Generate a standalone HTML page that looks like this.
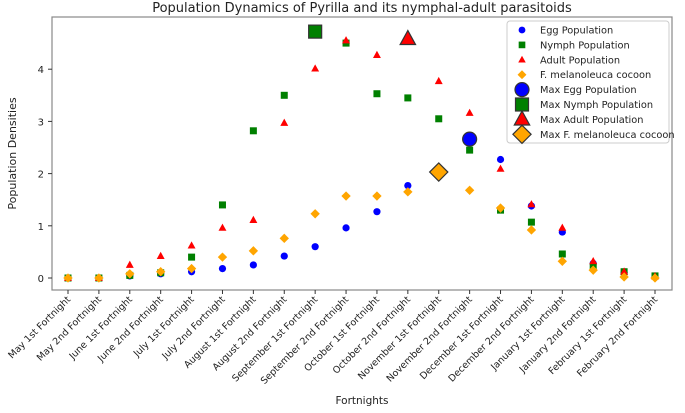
<!DOCTYPE html>
<html><head><meta charset="utf-8"><style>
body{margin:0;background:#fff;font-family:"Liberation Sans","DejaVu Sans",sans-serif}
svg text{font-family:"DejaVu Sans","Liberation Sans",sans-serif;fill:#222}
</style></head><body>
<svg id="c" width="685" height="408"></svg>
<script>
const categories=["May 1st Fortnight","May 2nd Fortnight","June 1st Fortnight","June 2nd Fortnight","July 1st Fortnight","July 2nd Fortnight","August 1st Fortnight","August 2nd Fortnight","September 1st Fortnight","September 2nd Fortnight","October 1st Fortnight","October 2nd Fortnight","November 1st Fortnight","November 2nd Fortnight","December 1st Fortnight","December 2nd Fortnight","January 1st Fortnight","January 2nd Fortnight","February 1st Fortnight","February 2nd Fortnight"];
const eggValues=[0,0,0.04,0.08,0.12,0.18,0.25,0.42,0.6,0.96,1.27,1.77,2.0,2.66,2.27,1.38,0.88,0.28,0.1,0.03];
const nymphValues=[0,0,0.05,0.1,0.4,1.4,2.82,3.5,4.72,4.5,3.53,3.45,3.05,2.45,1.3,1.07,0.46,0.22,0.12,0.04];
const adultValues=[0,0,0.25,0.42,0.62,0.96,1.11,2.97,4.01,4.55,4.27,4.58,3.77,3.16,2.09,1.41,0.96,0.32,0.12,0.03];
const cocoonValues=[0,0,0.08,0.12,0.18,0.4,0.52,0.76,1.23,1.57,1.57,1.65,2.03,1.68,1.34,0.92,0.32,0.15,0.02,0];
const yTicks=[0,1,2,3,4];
const NS="http://www.w3.org/2000/svg";
const svg=document.getElementById('c');
const L=52,R=672,T=17,B=290;
const xs=i=>68+i*(655-68)/(categories.length-1);
const ys=v=>278-v*52.2;
function el(t,a,p){const e=document.createElementNS(NS,t);for(const k in a)e.setAttribute(k,a[k]);(p||svg).appendChild(e);return e;}
const frame=el('rect',{x:L,y:T,width:R-L,height:B-T,fill:'none',stroke:'#888','stroke-width':1.2});


const title=el('text',{x:(L+R)/2,y:12,'text-anchor':'middle','font-size':13});
title.textContent='Population Dynamics of Pyrilla and its nymphal-adult parasitoids';


yTicks.forEach(t=>{
  el('line',{x1:L-4,x2:L,y1:ys(t),y2:ys(t),stroke:'#333'});
  const tx=el('text',{x:L-8,y:ys(t)+4,'text-anchor':'end','font-size':10});
  tx.textContent=t;
  
  
});
categories.forEach((c,i)=>{
  const x=xs(i);
  el('line',{x1:x,x2:x,y1:B,y2:B+4,stroke:'#333'});
  const tx=el('text',{x:x+3,y:B+10,'text-anchor':'end','font-size':9.5,transform:`rotate(-45 ${x+3} ${B+10})`});
  tx.textContent=c;
  
  
});
const yl=el('text',{x:16,y:(T+B)/2,'text-anchor':'middle','font-size':11,transform:`rotate(-90 16 ${(T+B)/2})`});
yl.textContent='Population Densities';


const xl=el('text',{x:(L+R)/2,y:404,'text-anchor':'middle','font-size':10.5});
xl.textContent='Fortnights';


function marker(shape,x,y,s,color,edge,g){
  let e;
  if(shape==='circle')e=el('circle',{cx:x,cy:y,r:s,fill:color},g);
  else if(shape==='square')e=el('rect',{x:x-s,y:y-s,width:2*s,height:2*s,fill:color},g);
  else if(shape==='tri')e=el('polygon',{points:`${x},${y-s*1.2} ${x-s*1.1},${y+s*0.8} ${x+s*1.1},${y+s*0.8}`,fill:color},g);
  else e=el('polygon',{points:`${x},${y-s*1.3} ${x+s*1.3},${y} ${x},${y+s*1.3} ${x-s*1.3},${y}`,fill:color},g);
  if(edge){e.setAttribute('stroke','#333');e.setAttribute('stroke-width',1.2);}
  return e;
}
const series=[
 {name:'Egg Population',maxName:'Max Egg Population',vals:eggValues,shape:'circle',color:'#0000ff',s:3.6,ms:7},
 {name:'Nymph Population',maxName:'Max Nymph Population',vals:nymphValues,shape:'square',color:'#008000',s:3.5,ms:6.5},
 {name:'Adult Population',maxName:'Max Adult Population',vals:adultValues,shape:'tri',color:'#ff0000',s:3.6,ms:7},
 {name:'F. melanoleuca cocoon',maxName:'Max F. melanoleuca cocoon',vals:cocoonValues,shape:'diamond',color:'#ffa500',s:3.6,ms:7}
];
series.forEach(sr=>{
  const g=el('g',{});
  
  
  sr.vals.forEach((v,i)=>{
    const m=marker(sr.shape,xs(i),ys(v),sr.s,sr.color,false,g);
    
    
  });
});
series.forEach(sr=>{
  let mi=0;sr.vals.forEach((v,i)=>{if(v>sr.vals[mi])mi=i;});
  const m=marker(sr.shape,xs(mi),ys(sr.vals[mi]),sr.ms,sr.color,true);
  
  
});
const lg=el('g',{});


el('rect',{x:507,y:21,width:162,height:122,rx:3,fill:'#fff','fill-opacity':0.85,stroke:'#ccc'},lg);
const entries=[];
series.forEach(sr=>entries.push([sr.name,sr,false]));
series.forEach(sr=>entries.push([sr.maxName,sr,true]));
entries.forEach((e,i)=>{
  const y=30+i*14.9;
  const m=marker(e[1].shape,522,y,e[2]?e[1].ms:e[1].s*0.95,e[1].color,e[2],lg);
  
  
  const t=el('text',{x:540,y:y+3.5,'font-size':9.8},lg);
  t.textContent=e[0];
  
  
});
</script>
</body></html>
